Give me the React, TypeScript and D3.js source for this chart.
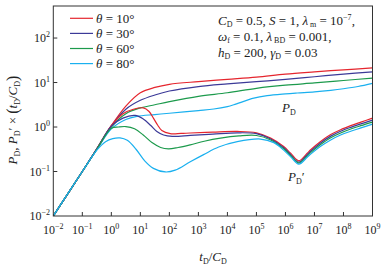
import React from "react";
import * as d3 from "d3";

// Values are stored as log10 exponents: [log10(tD/CD), log10(value)]
const thetaLabels = ["10", "30", "60", "80"];
const colors = ["#e5262e", "#3c3a98", "#1c9a4c", "#1ab0ef"];

const xTickExps = [-2, -1, 0, 1, 2, 3, 4, 5, 6, 7, 8, 9];
const yTickExps = [-2, -1, 0, 1, 2];

const pdRed: [number, number][] = [[-2, -2], [-1, -1], [-0.5, -0.49], [0, 0.03], [0.5, 0.47], [1, 0.77], [1.5, 0.89], [2, 0.96], [3, 1.02], [4, 1.07], [5, 1.12], [6, 1.19], [7, 1.24], [8, 1.285], [9, 1.33]];
const pdBlue: [number, number][] = [[-2, -2], [-1, -1], [-0.5, -0.49], [0, 0.02], [0.5, 0.4], [1, 0.6], [1.5, 0.72], [2, 0.81], [3, 0.91], [4, 0.97], [5, 1.02], [6, 1.07], [7, 1.13], [8, 1.19], [9, 1.24]];
const pdGreen: [number, number][] = [[-2, -2], [-1, -1], [-0.5, -0.5], [0, 0.0], [0.5, 0.3], [1, 0.43], [1.5, 0.5], [2, 0.57], [3, 0.69], [4, 0.77], [5, 0.87], [6, 0.94], [7, 0.99], [8, 1.045], [9, 1.1]];
const pdCyan: [number, number][] = [[-2, -2], [-1, -1], [-0.5, -0.51], [0, -0.04], [0.5, 0.17], [0.88, 0.24], [1.5, 0.28], [2, 0.31], [3, 0.37], [3.53, 0.405], [4, 0.46], [4.22, 0.5], [4.91, 0.65], [5.37, 0.705], [6, 0.745], [6.41, 0.765], [7, 0.79], [7.56, 0.825], [8, 0.86], [8.5, 0.91], [9, 0.98]];

const dRed: [number, number][] = [[-2, -2], [-1, -1], [-0.5, -0.49], [0, 0.03], [0.4, 0.3], [0.76, 0.4], [1.1, 0.43], [1.3, 0.35], [1.45, 0.2], [1.6, 0.04], [1.74, -0.08], [2.03, -0.15], [2.4, -0.145], [2.72, -0.135], [3.5, -0.115], [4.34, -0.1], [5.0, -0.13], [5.49, -0.25], [5.94, -0.44], [6.18, -0.59], [6.46, -0.76], [6.75, -0.59], [6.87, -0.51], [7.2, -0.33], [7.56, -0.17], [7.9, -0.06], [8.25, 0.03], [8.6, 0.11], [9, 0.2]];
const dBlue: [number, number][] = [[-2, -2], [-1, -1], [-0.5, -0.49], [0, 0.02], [0.4, 0.2], [0.82, 0.26], [1.1, 0.18], [1.35, 0.04], [1.57, -0.1], [1.8, -0.18], [2.1, -0.21], [2.72, -0.19], [3.5, -0.16], [4.34, -0.13], [5.0, -0.15], [5.49, -0.27], [5.94, -0.465], [6.18, -0.62], [6.46, -0.79], [6.75, -0.62], [6.87, -0.545], [7.2, -0.365], [7.56, -0.205], [7.9, -0.095], [8.25, -0.007], [8.6, 0.07], [9, 0.155]];
const dGreen: [number, number][] = [[-2, -2], [-1, -1], [-0.5, -0.5], [0, -0.03], [0.25, 0.0], [0.5, 0.01], [0.8, -0.04], [1.1, -0.18], [1.4, -0.35], [1.7, -0.46], [1.97, -0.49], [2.3, -0.46], [2.72, -0.4], [3.2, -0.32], [3.76, -0.25], [4.4, -0.2], [5.0, -0.19], [5.49, -0.29], [5.94, -0.49], [6.18, -0.64], [6.46, -0.81], [6.75, -0.65], [6.87, -0.575], [7.2, -0.4], [7.56, -0.24], [7.9, -0.135], [8.25, -0.045], [8.6, 0.03], [9, 0.11]];
const dCyan: [number, number][] = [[-2, -2], [-1, -1], [-0.5, -0.52], [-0.2, -0.33], [0.05, -0.26], [0.3, -0.245], [0.55, -0.3], [0.85, -0.5], [1.15, -0.76], [1.45, -0.93], [1.86, -1.01], [2.2, -0.97], [2.72, -0.78], [3.18, -0.62], [3.7, -0.45], [4.34, -0.33], [5.14, -0.27], [5.6, -0.35], [5.94, -0.52], [6.18, -0.67], [6.46, -0.835], [6.75, -0.68], [6.87, -0.61], [7.2, -0.44], [7.56, -0.29], [7.9, -0.18], [8.25, -0.095], [8.6, -0.02], [9, 0.065]];

const pdSeries = [pdRed, pdBlue, pdGreen, pdCyan];
const derivSeries = [dRed, dBlue, dGreen, dCyan];

const FONT = "'Liberation Serif', 'Times New Roman', serif";

export default function App() {
  const x = d3.scaleLog().domain([1e-2, 1e9]).range([53.3, 372.5]);
  const y = d3.scaleLog().domain([1e-2, Math.pow(10, 2.72)]).range([216, 6]);
  const line = d3
    .line<[number, number]>()
    .x((d) => x(Math.pow(10, d[0])))
    .y((d) => y(Math.pow(10, d[1])))
    .curve(d3.curveCatmullRom.alpha(0.5));

  const [x0, x1] = x.range();
  const [yb, yt] = y.range();
  const minus = (e: number) => (e < 0 ? "\u2212" + Math.abs(e) : String(e));

  return (
    <svg width={383} height={270} style={{ position: "absolute", left: 0, top: 0, background: "#fff" }} fontFamily={FONT}>
      <defs>
        <clipPath id="plot">
          <rect x={x0} y={yt} width={x1 - x0} height={yb - yt} />
        </clipPath>
      </defs>
      <g clipPath="url(#plot)" fill="none" strokeWidth={1.2}>
        {pdSeries.map((s, i) => (
          <path key={"pd" + i} d={line(s) || ""} stroke={colors[i]} />
        ))}
        {derivSeries.map((s, i) => (
          <path key={"d" + i} d={line(s) || ""} stroke={colors[i]} />
        ))}
      </g>
      <rect x={x0} y={yt} width={x1 - x0} height={yb - yt} fill="none" stroke="#333" strokeWidth={1} />
      {xTickExps.map((e) => {
        const px = x(Math.pow(10, e));
        return (
          <g key={"xt" + e}>
            {e > -2 && e < 9 && <line x1={px} x2={px} y1={yb} y2={yb - 4} stroke="#333" />}
            <text x={px} y={234} fontSize={12} textAnchor="middle" fill="#222">
              <tspan>10</tspan>
              <tspan dy={-5} fontSize={8}>{minus(e)}</tspan>
            </text>
          </g>
        );
      })}
      {yTickExps.map((e) => {
        const py = y(Math.pow(10, e));
        return (
          <g key={"yt" + e}>
            {e > -2 && <line x1={x0} x2={x0 + 4} y1={py} y2={py} stroke="#333" />}
            <text x={50} y={py + 4} fontSize={12} textAnchor="end" fill="#222">
              <tspan>10</tspan>
              <tspan dy={-5} fontSize={8}>{minus(e)}</tspan>
            </text>
          </g>
        );
      })}
      {thetaLabels.map((t, i) => {
        const cy = 18.3 + i * 15.1;
        return (
          <g key={"lg" + i}>
            <line x1={70} x2={93} y1={cy} y2={cy} stroke={colors[i]} strokeWidth={1.2} />
            <text x={96} y={cy + 4.5} fontSize={13} fill="#222">
              <tspan fontStyle="italic">θ</tspan>
              <tspan> = {t}°</tspan>
            </text>
          </g>
        );
      })}
      <g fontSize={13} fill="#222">
        <text x={218} y={25}>
          <tspan fontStyle="italic">C</tspan>
          <tspan fontSize={8} dy={2}>D</tspan>
          <tspan dy={-2}> = 0.5, </tspan>
          <tspan fontStyle="italic">S</tspan>
          <tspan> = 1, </tspan>
          <tspan fontStyle="italic">λ</tspan>
          <tspan fontSize={8} dy={2}> m</tspan>
          <tspan dy={-2}> = 10</tspan>
          <tspan fontSize={8} dy={-5}>−7</tspan>
          <tspan dy={5}>,</tspan>
        </text>
        <text x={218} y={41}>
          <tspan fontStyle="italic">ω</tspan>
          <tspan fontSize={8} dy={2}>f</tspan>
          <tspan dy={-2}> = 0.1, </tspan>
          <tspan fontStyle="italic">λ</tspan>
          <tspan fontSize={8} dy={2}> BD</tspan>
          <tspan dy={-2}> = 0.001,</tspan>
        </text>
        <text x={218} y={57}>
          <tspan fontStyle="italic">h</tspan>
          <tspan fontSize={8} dy={2}>D</tspan>
          <tspan dy={-2}> = 200, </tspan>
          <tspan fontStyle="italic">γ</tspan>
          <tspan fontSize={8} dy={2}>D</tspan>
          <tspan dy={-2}> = 0.03</tspan>
        </text>
        <text x={282} y={112}>
          <tspan fontStyle="italic">P</tspan>
          <tspan fontSize={8} dy={3}>D</tspan>
        </text>
        <text x={288} y={181}>
          <tspan fontStyle="italic">P</tspan>
          <tspan fontSize={8} dy={3}>D</tspan>
          <tspan dy={-3}>′</tspan>
        </text>
        <text x={213} y={261} textAnchor="middle">
          <tspan fontStyle="italic">t</tspan>
          <tspan fontSize={8} dy={3}>D</tspan>
          <tspan dy={-3}>/</tspan>
          <tspan fontStyle="italic">C</tspan>
          <tspan fontSize={8} dy={3}>D</tspan>
        </text>
        <text transform="translate(17,120) rotate(-90)" textAnchor="middle">
          <tspan fontStyle="italic">P</tspan>
          <tspan fontSize={8} dy={3}>D</tspan>
          <tspan dy={-3}>, </tspan>
          <tspan fontStyle="italic">P</tspan>
          <tspan fontSize={8} dy={3}>D</tspan>
          <tspan dy={-3}>′ × </tspan>
          <tspan fontSize={16} dy={1}>(</tspan>
          <tspan fontStyle="italic" dy={-1}>t</tspan>
          <tspan fontSize={8} dy={3}>D</tspan>
          <tspan dy={-3}>/</tspan>
          <tspan fontStyle="italic">C</tspan>
          <tspan fontSize={8} dy={3}>D</tspan>
          <tspan fontSize={16} dy={-2}>)</tspan>
        </text>
      </g>
    </svg>
  );
}
